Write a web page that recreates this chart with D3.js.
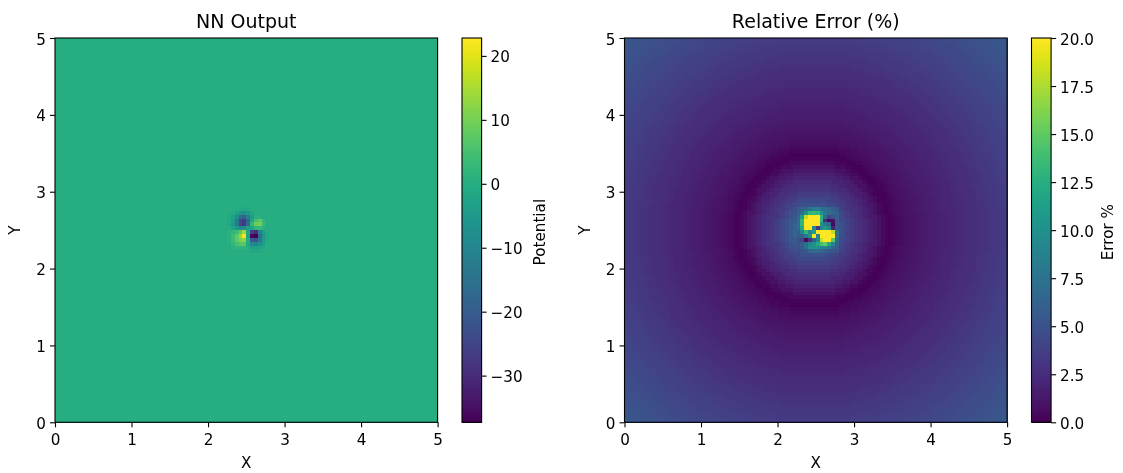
<!DOCTYPE html>
<html>
<head>
<meta charset="utf-8">
<script src="https://cdnjs.cloudflare.com/ajax/libs/d3/7.8.5/d3.min.js"></script>
<style>
  html, body { margin: 0; padding: 0; background: #fff; }
  svg { display: block; filter: blur(0.45px); }
  text { font-family: "DejaVu Sans", sans-serif; fill: #000; }
</style>
</head>
<body>
<div id="chart"></div>
<script>
var width = 1123;
var height = 473;

var axisTicks = [0, 1, 2, 3, 4, 5];
var nnTicks = [-30, -20, -10, 0, 10, 20];
var errTicks = [0, 2.5, 5, 7.5, 10, 12.5, 15, 17.5, 20];
var nnRange = [-37.3, 22.8];
var errRange = [0, 20];
var gridSize = 100;

// NN output, read cell by cell around the centre, everything else is 0
var nnPatchRow = 44, nnPatchCol = 44;
var nnPatch = [
  [0, 0, 0, 0, -1, -1, -1, 0, 0, 0, 0, 0, 0],
  [0, 0, -1, -3, -6, -7, -5, -2, 0, 0, 0, 0, 0],
  [0, -1, -3, -9, -16, -18, -12, -4, 1, 1, 0, 0, 0],
  [0, -1, -5, -13, -25, -27, -17, -2, 5, 8, 3, 0, 0],
  [0, -1, -5, -13, -25, -27, -16, 3, 9, 10, 3, 0, 0],
  [0, 0, -3, -6, -10, -8, -3, -2, 2, 3, 1, 0, 0],
  [0, 1, 2, 4, 8, 14, -2, -26, -30, -12, -4, -1, 0],
  [0, 1, 4, 8, 13, 22, -3, -36, -37, -16, -6, -1, 0],
  [0, 1, 4, 8, 11, 12, -1, -20, -22, -13, -5, -1, 0],
  [0, 0, 2, 5, 7, 7, -1, -9, -10, -7, -3, 0, 0],
  [0, 0, 1, 2, 2, 2, 0, -3, -3, -2, -1, 0, 0],
  [0, 0, 0, 0, 0, 0, 0, -1, -1, -1, 0, 0, 0]
];

// relative error against distance from the centre, one value per 0.05 units
var errCenter = [2.47, 2.5];
var errBand = 0.05;
var errProfile = [
  10, 10, 9.5, 9, 7.5, 6.4, 5.6, 4.9, 4.4, 3.9, 3.5, 3.1, 2.7, 2.35, 2, 1.65,
  1.3, 0.9, 0.5, 0.2, 0.15, 0.3, 0.5, 0.65, 0.8, 0.95, 1.05, 1.15, 1.3, 1.4,
  1.5, 1.6, 1.7, 1.8, 1.9, 2, 2.1, 2.15, 2.25, 2.35, 2.45, 2.55, 2.65, 2.75,
  2.85, 2.95, 3.05, 3.15, 3.25, 3.35, 3.45, 3.55, 3.65, 3.75, 3.85, 3.95, 4.05,
  4.15, 4.25, 4.35, 4.45, 4.55, 4.65, 4.75, 4.85, 4.95, 5.05, 5.15, 5.25, 5.35,
  5.45, 5.55, 5.65, 5.75
];

// the messy middle of the error map, read cell by cell
var errPatchRow = 44, errPatchCol = 45;
var errPatch = [
  [5.5, 6, 6.5, 7.5, 8.5, 8.5, 7.5, 7, 6.5, 6, 5.5],
  [6, 7, 10, 13, 13.5, 13, 10, 8, 7, 6.5, 6],
  [6.5, 11, 18, 20, 20, 20, 13, 7, 4, 5, 6],
  [7, 13, 20, 20, 20, 20, 13, 2.5, 0.5, 1, 5.5],
  [7, 13, 20, 20, 20, 20, 10, 8, 7, 0.5, 5.5],
  [7, 12, 20, 20, 9, 3, 9, 11, 9, 2, 5.5],
  [6, 9, 13, 9, 11, 20, 20, 20, 20, 18, 7],
  [5.5, 6, 8, 10, 20, 9, 20, 20, 20, 20, 7],
  [5, 4, 0.5, 3, 6, 9, 18, 20, 20, 15, 6.5],
  [5, 6, 7, 9, 10, 12, 14, 15, 12, 9, 6],
  [5, 5.5, 7.5, 10, 10, 10, 9, 9, 8, 6.5, 5.5],
  [4.5, 5, 5.5, 6.5, 7, 7, 6.5, 6, 5.5, 5, 5]
];

function nnValue(row, col) {
  var line = nnPatch[row - nnPatchRow];
  if (line && line[col - nnPatchCol] !== undefined) return line[col - nnPatchCol];
  return 0;
}

function errValue(row, col) {
  var line = errPatch[row - errPatchRow];
  if (line && line[col - errPatchCol] !== undefined) return line[col - errPatchCol];
  var px = (col + 0.5) * 5 / gridSize - errCenter[0];
  var py = (row + 0.5) * 5 / gridSize - errCenter[1];
  return errProfile[Math.round(Math.hypot(px, py) / errBand)];
}

var svg = d3.select('#chart').append('svg')
  .attr('width', width)
  .attr('height', height)
  .attr('viewBox', '0 0 ' + width + ' ' + height);

function drawPanel(opts) {
  var left = opts.left, right = opts.left + 382.6;
  var top = 38, bottom = 422.3;

  var x = d3.scaleLinear().domain([0, 5]).range([left, right]);
  var y = d3.scaleLinear().domain([0, 5]).range([bottom, top]);
  var colX = d3.scaleBand().domain(d3.range(gridSize)).range([left, right]);
  var rowY = d3.scaleBand().domain(d3.range(gridSize)).range([top, bottom]);
  var color = d3.scaleSequential(d3.interpolateViridis).domain(opts.range);

  var cells = [];
  d3.range(gridSize).forEach(function(r) {
    d3.range(gridSize).forEach(function(c) {
      cells.push({ r: r, c: c, v: opts.value(r, c) });
    });
  });

  svg.append('g').attr('shape-rendering', 'crispEdges')
    .selectAll('rect').data(cells).join('rect')
    .attr('x', function(d) { return colX(d.c); })
    .attr('y', function(d) { return rowY(d.r); })
    .attr('width', colX.bandwidth() + 0.5)
    .attr('height', rowY.bandwidth() + 0.5)
    .attr('fill', function(d) { return color(d.v); });

  var xAxis = svg.append('g').attr('transform', 'translate(0,' + bottom + ')')
    .call(d3.axisBottom(x).tickValues(axisTicks).tickFormat(d3.format('d')).tickSize(5).tickPadding(7));
  var yAxis = svg.append('g').attr('transform', 'translate(' + left + ',0)')
    .call(d3.axisLeft(y).tickValues(axisTicks).tickFormat(d3.format('d')).tickSize(5).tickPadding(4));
  styleAxis(xAxis);
  styleAxis(yAxis);
  yAxis.selectAll('.tick text').attr('dy', '0.4em');

  svg.append('rect')
    .attr('x', left).attr('y', top)
    .attr('width', right - left).attr('height', bottom - top)
    .attr('fill', 'none').attr('stroke', '#000').attr('stroke-width', 1.1);

  svg.append('text')
    .attr('x', (left + right) / 2).attr('y', 28)
    .attr('text-anchor', 'middle').attr('font-size', 19)
    .text(opts.title);
  svg.append('text')
    .attr('x', (left + right) / 2).attr('y', 468)
    .attr('text-anchor', 'middle').attr('font-size', 15.2)
    .text('X');
  svg.append('text')
    .attr('transform', 'translate(' + (left - 35) + ',' + (top + bottom) / 2 + ') rotate(-90)')
    .attr('text-anchor', 'middle').attr('font-size', 15.2)
    .text('Y');

  // colorbar
  var barLeft = opts.barLeft, barRight = opts.barLeft + 19.6;
  var barY = d3.scaleLinear().domain(opts.range).range([bottom, top]);
  var levelStep = (opts.range[1] - opts.range[0]) / 256;
  var levels = d3.range(256).map(function(i) {
    return opts.range[0] + levelStep * i;
  });

  svg.append('g').attr('shape-rendering', 'crispEdges')
    .selectAll('rect').data(levels).join('rect')
    .attr('x', barLeft)
    .attr('width', barRight - barLeft)
    .attr('y', function(d) { return barY(d + levelStep); })
    .attr('height', function(d) { return barY(d) - barY(d + levelStep) + 0.5; })
    .attr('fill', function(d) { return color(d + levelStep / 2); });

  var barAxis = svg.append('g').attr('transform', 'translate(' + barRight + ',0)')
    .call(d3.axisRight(barY).tickValues(opts.ticks).tickFormat(d3.format(opts.format)).tickSize(5).tickPadding(4));
  styleAxis(barAxis);
  barAxis.selectAll('.tick text').attr('dy', '0.4em');

  svg.append('rect')
    .attr('x', barLeft).attr('y', top)
    .attr('width', barRight - barLeft).attr('height', bottom - top)
    .attr('fill', 'none').attr('stroke', '#000').attr('stroke-width', 1.1);

  svg.append('text')
    .attr('transform', 'translate(' + opts.barLabelX + ',' + ((top + bottom) / 2 + 2) + ') rotate(-90)')
    .attr('text-anchor', 'middle').attr('font-size', 15.2)
    .text(opts.barLabel);
}

function styleAxis(g) {
  g.select('.domain').remove();
  g.selectAll('.tick line').attr('stroke', '#000').attr('stroke-width', 1.1);
  g.selectAll('.tick text').attr('font-size', 15.2).attr('font-family', '"DejaVu Sans", sans-serif').attr('fill', '#000');
}

drawPanel({
  left: 55, barLeft: 462, barLabelX: 545,
  title: 'NN Output', barLabel: 'Potential',
  value: nnValue, range: nnRange, ticks: nnTicks, format: 'd'
});

drawPanel({
  left: 624.5, barLeft: 1031.5, barLabelX: 1113,
  title: 'Relative Error (%)', barLabel: 'Error %',
  value: errValue, range: errRange, ticks: errTicks, format: '.1f'
});
</script>
</body>
</html>
